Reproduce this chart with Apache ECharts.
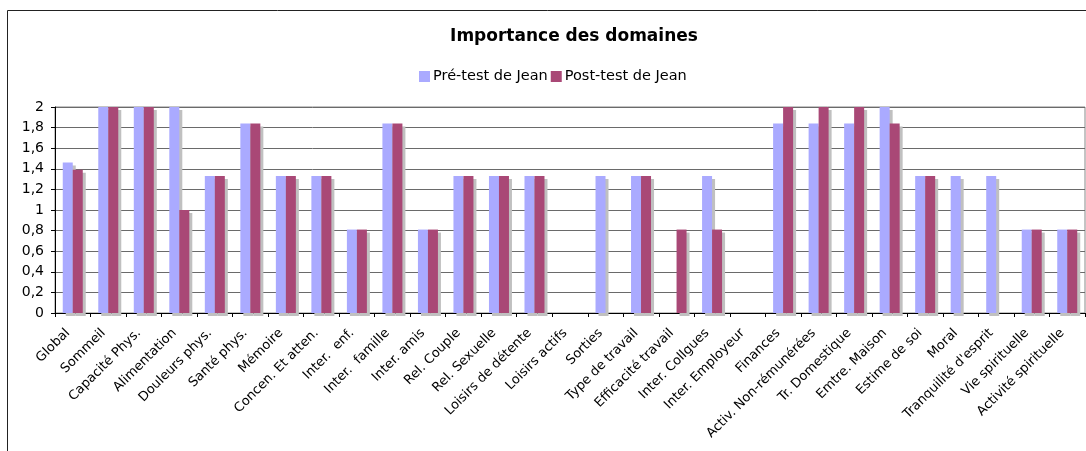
<!DOCTYPE html>
<html>
<head>
<meta charset="utf-8">
<script src="https://cdn.jsdelivr.net/npm/echarts@6/dist/echarts.min.js"></script>
<style>
  html, body { margin: 0; padding: 0; background: #fff; }
  #chart { width: 1086px; height: 451px; }
</style>
</head>
<body>
<div id="chart"></div>
<script>
  // domaines
  var categories = [
    'Global', 'Sommeil', 'Capacité Phys.', 'Alimentation', 'Douleurs phys.',
    'Santé phys.', 'Mémoire', 'Concen. Et atten.', 'Inter.  enf.', 'Inter.  famille',
    'Inter. amis', 'Rel. Couple', 'Rel. Sexuelle', 'Loisirs de détente', 'Loisirs actifs',
    'Sorties', 'Type de travail', 'Efficacité travail', 'Inter. Collgues', 'Inter. Employeur',
    'Finances', 'Activ. Non-rémunérées', 'Tr. Domestique', 'Emtre. Maison', 'Estime de soi',
    'Moral', "Tranquilité d'esprit", 'Vie spirituelle', 'Activité spirituelle'
  ]
  var preTest = [
    1.46, 2, 2, 2, 1.33,
    1.84, 1.33, 1.33, 0.81, 1.84,
    0.81, 1.33, 1.33, 1.33, 0,
    1.33, 1.33, 0, 1.33, 0,
    1.84, 1.84, 1.84, 2, 1.33,
    1.33, 1.33, 0.81, 0.81
  ]
  var postTest = [
    1.39, 2, 2, 1, 1.33,
    1.84, 1.33, 1.33, 0.81, 1.84,
    0.81, 1.33, 1.33, 1.33, 0,
    0, 1.33, 0.81, 0.81, 0,
    2, 2, 2, 1.84, 1.33,
    0, 0, 0.81, 0.81
  ]
  var seriesNames = ['Pré-test de Jean', 'Post-test de Jean']

  var chart = echarts.init(document.getElementById('chart'))
  var font = 'Verdana, "DejaVu Sans", sans-serif'

  // zero-height bars would still leave a shadow sliver
  function noZero(arr) {
    return arr.map(function (v) { return v === 0 ? '-' : v })
  }

  function barStyle(color) {
    return {
      color: color,
      shadowColor: '#c0c0c0',
      shadowBlur: 0,
      shadowOffsetX: 3,
      shadowOffsetY: 3
    }
  }

  chart.setOption({
    animation: false,
    graphic: [{
      type: 'rect',
      shape: { x: 7.5, y: 10.5, width: 1200, height: 600 },
      style: { fill: 'none', stroke: '#222', lineWidth: 1 },
      z: -10
    }],
    title: {
      text: 'Importance des domaines',
      left: 569,
      top: 23,
      textAlign: 'center',
      textStyle: { fontFamily: font, fontWeight: 'bold', fontSize: 17, color: '#000' }
    },
    legend: {
      data: seriesNames,
      left: 419,
      top: 69,
      padding: 0,
      icon: 'rect',
      itemWidth: 11,
      itemHeight: 11,
      itemGap: 3,
      textStyle: { fontFamily: font, fontSize: 14.5, color: '#000', padding: [0, 0, 0, -2] }
    },
    grid: {
      left: 55,
      right: 1,
      top: 107,
      bottom: 138,
      show: true,
      borderColor: '#888',
      borderWidth: 1
    },
    xAxis: {
      type: 'category',
      data: categories,
      axisLine: { lineStyle: { color: '#000' } },
      axisTick: { show: true, alignWithLabel: false, length: 4, lineStyle: { color: '#000' } },
      axisLabel: {
        interval: 0,
        rotate: 45,
        margin: 13,
        padding: [0, 7, 0, 0],
        fontFamily: font,
        fontSize: 13,
        color: '#000'
      }
    },
    yAxis: {
      type: 'value',
      min: 0,
      max: 2,
      interval: 0.2,
      axisLine: { show: true, lineStyle: { color: '#000' } },
      axisTick: { show: true, length: 4, lineStyle: { color: '#000' } },
      splitLine: { lineStyle: { color: '#6a6a6a', width: 1 } },
      axisLabel: {
        margin: 11,
        fontFamily: font,
        fontSize: 14,
        color: '#000',
        formatter: function (v) {
          return String(Math.round(v * 10) / 10).replace('.', ',')
        }
      }
    },
    series: [{
      name: seriesNames[0],
      type: 'bar',
      data: noZero(preTest),
      barWidth: 10,
      barGap: '0%',
      itemStyle: barStyle('#aaaaff')
    }, {
      name: seriesNames[1],
      type: 'bar',
      data: noZero(postTest),
      barWidth: 10,
      barGap: '0%',
      itemStyle: barStyle('#a94876')
    }]
  })
</script>
</body>
</html>
